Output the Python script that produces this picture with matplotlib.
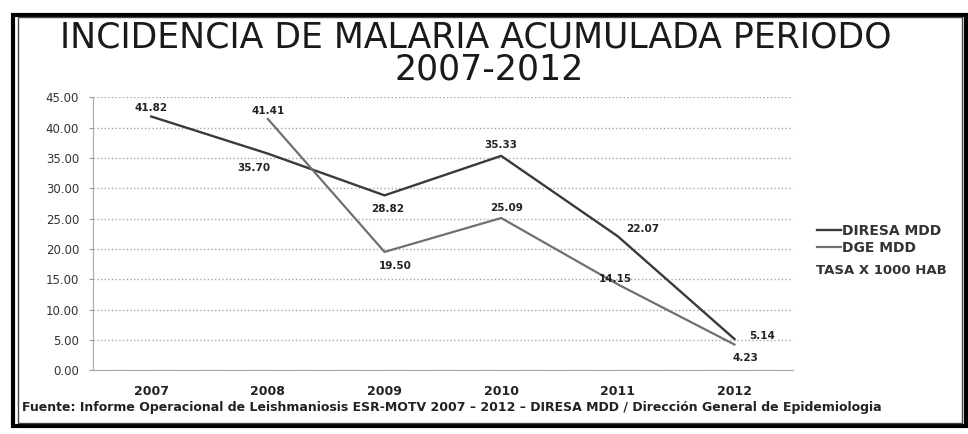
import matplotlib.pyplot as plt
from matplotlib.patches import Rectangle

# --- Datos del grafico ---
anios = ["2007", "2008", "2009", "2010", "2011", "2012"]
diresa_mdd = [41.82, 35.70, 28.82, 35.33, 22.07, 5.14]
dge_mdd = [None, 41.41, 19.50, 25.09, 14.15, 4.23]
y_ticks = [0, 5, 10, 15, 20, 25, 30, 35, 40, 45]

# desplazamiento de etiquetas (puntos)
off_diresa = [(0, 6), (-10, -10), (2, -10), (0, 8), (18, 5), (20, 2)]
off_dge = [None, (0, 6), (8, -10), (4, 7), (-2, 4), (8, -10)]

plt.rcParams['font.family'] = ['DejaVu Sans']

fig = plt.figure(figsize=(9.68, 4.34), dpi=100)
ax = fig.add_axes([0.096, 0.147, 0.723, 0.629])

x = list(range(len(anios)))
ax.plot(x, diresa_mdd, color='#3a3a3a', lw=1.7, label='DIRESA MDD')
x2 = [i for i, v in zip(x, dge_mdd) if v is not None]
v2 = [v for v in dge_mdd if v is not None]
ax.plot(x2, v2, color='#707070', lw=1.6, label='DGE MDD')

for i, v in enumerate(diresa_mdd):
    ax.annotate(f"{v:.2f}", (i, v), xytext=off_diresa[i], textcoords='offset points',
                ha='center', va='center', fontsize=7.5, fontweight='bold', color='#222222')
for i, v in enumerate(dge_mdd):
    if v is None:
        continue
    ax.annotate(f"{v:.2f}", (i, v), xytext=off_dge[i], textcoords='offset points',
                ha='center', va='center', fontsize=7.5, fontweight='bold', color='#222222')

ax.set_xlim(-0.5, len(anios) - 0.5)
ax.set_ylim(0, 45)
ax.set_yticks(y_ticks)
ax.set_yticklabels([f"{t:.2f}" for t in y_ticks], fontsize=8.5, color='#333333')
ax.set_xticks(x)
ax.set_xticklabels(anios, fontsize=9, fontweight='bold', color='#222222')
ax.tick_params(axis='x', length=0, pad=11)
ax.tick_params(axis='y', length=3, color='#999999', pad=7)
ax.yaxis.grid(True, linestyle=':', color='#9aaabb', lw=1)
ax.set_axisbelow(True)
for s in ['top', 'right']:
    ax.spines[s].set_visible(False)
ax.spines['left'].set_color('#aaaaaa')
ax.spines['bottom'].set_color('#aaaaaa')

# --- Leyenda ---
leg = fig.legend(loc='upper left', bbox_to_anchor=(0.831, 0.513), frameon=False,
                 handlelength=1.7, handletextpad=0.1, labelspacing=0.2,
                 prop={'size': 10, 'weight': 'bold'})
for t in leg.get_texts():
    t.set_color('#333333')
fig.text(0.843, 0.376, "TASA X 1000 HAB", fontsize=9.5, fontweight='bold', color='#333333',
         va='center')

# --- Titulo ---
fig.text(0.492, 0.913, "INCIDENCIA DE MALARIA ACUMULADA PERIODO", ha='center', va='center',
         fontsize=25, color='#1a1a1a')
fig.text(0.505, 0.84, "2007-2012", ha='center', va='center', fontsize=25, color='#1a1a1a')

# --- Fuente ---
fig.text(0.023, 0.06, "Fuente: Informe Operacional de Leishmaniosis ESR-MOTV 2007 \u2013 2012 \u2013 "
         "DIRESA MDD / Dirección General de Epidemiologia", fontsize=9, fontweight='bold',
         color='#222222', va='center')

# --- Marco ---
fig.patches.append(Rectangle((0.013, 0.018), 0.985, 0.948, transform=fig.transFigure,
                             fill=False, edgecolor='black', lw=3))
fig.patches.append(Rectangle((0.019, 0.025), 0.975, 0.935, transform=fig.transFigure,
                             fill=False, edgecolor='#444444', lw=1))

fig.savefig('out.png', dpi=100)
